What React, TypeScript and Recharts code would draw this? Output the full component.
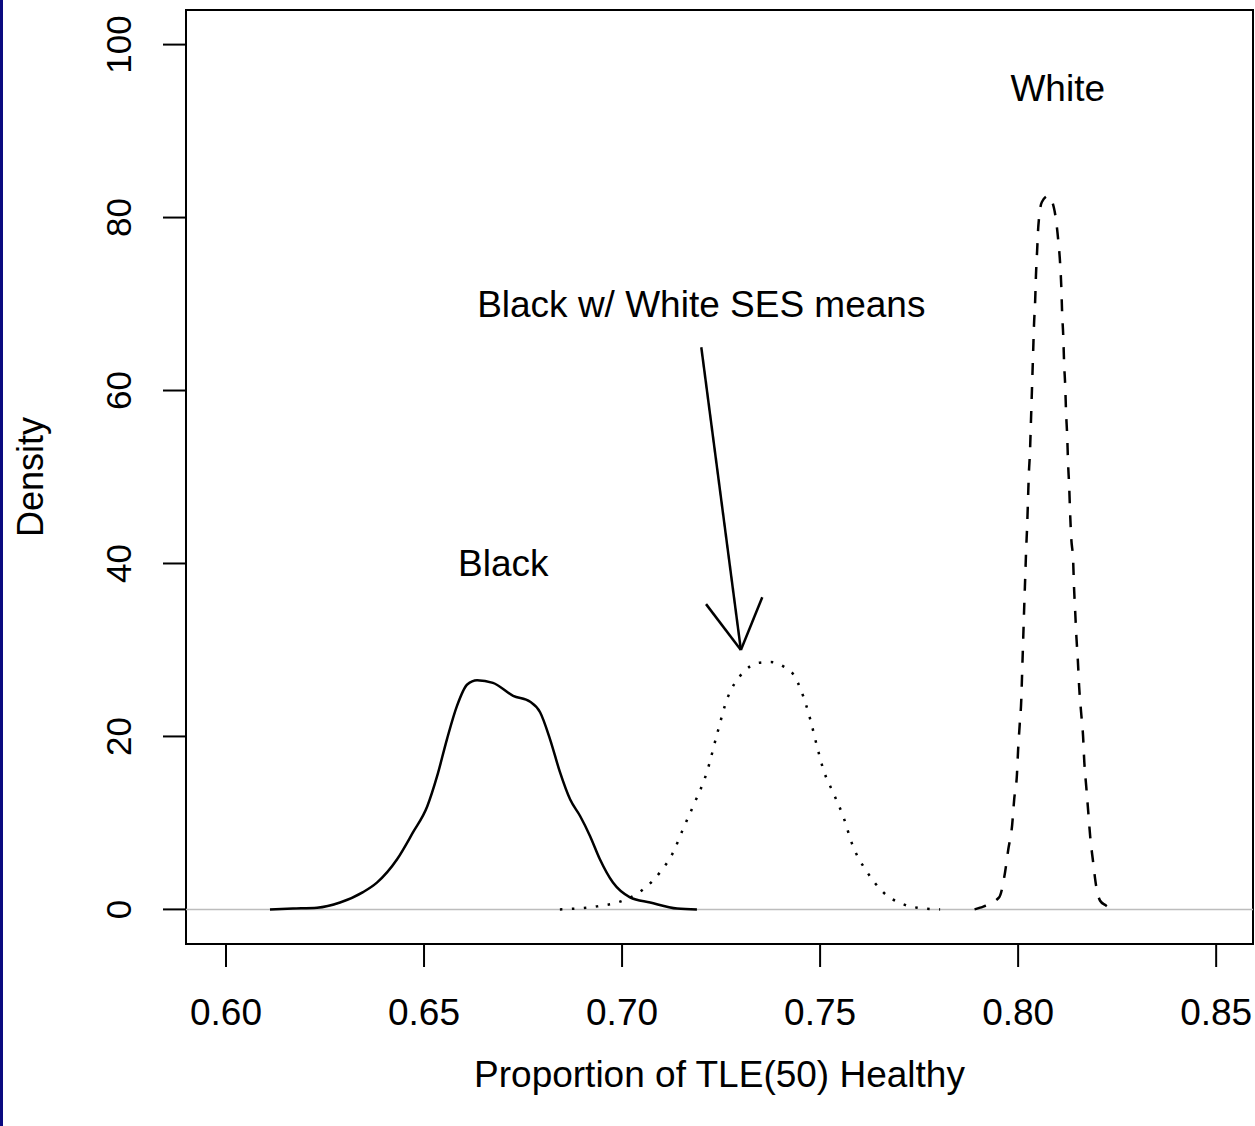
import React from "react";
import {
  LineChart,
  Line,
  XAxis,
  YAxis,
  ReferenceLine,
  ReferenceArea,
  ReferenceDot,
} from "recharts";

// density estimates
const blackX = [0.6111, 0.6169, 0.623, 0.6288, 0.6346, 0.6381, 0.6432, 0.6472, 0.6508, 0.6533, 0.6558, 0.6583, 0.6609, 0.6634, 0.6674, 0.6725, 0.6768, 0.6793, 0.6818, 0.6843, 0.6869, 0.6894, 0.6919, 0.6944, 0.6977, 0.702, 0.7071, 0.7139, 0.7189];
const blackY = [0, 0.1, 0.2, 0.8, 2.0, 3.1, 5.8, 8.9, 11.9, 15.4, 19.7, 23.5, 26.0, 26.5, 26.2, 24.7, 24.0, 22.8, 19.7, 15.9, 12.7, 10.8, 8.5, 5.8, 3.1, 1.4, 0.8, 0.1, 0];

const sesX = [0.6843, 0.6937, 0.6995, 0.7053, 0.7096, 0.7129, 0.7154, 0.7179, 0.7215, 0.724, 0.7265, 0.7298, 0.7323, 0.7343, 0.7375, 0.7407, 0.7432, 0.7457, 0.7475, 0.7492, 0.7508, 0.7533, 0.7558, 0.7583, 0.7619, 0.7659, 0.771, 0.7745, 0.7803];
const sesY = [0, 0.35, 0.9, 2.3, 4.3, 6.6, 9.3, 11.9, 16.0, 20.3, 24.3, 27.0, 28.1, 28.5, 28.6, 28.1, 27.2, 24.7, 22.0, 18.9, 16.2, 13.5, 10.8, 7.3, 4.3, 2.0, 0.6, 0.2, 0];

const whiteX = [0.789, 0.7904, 0.7952, 0.7967, 0.7975, 0.7985, 0.799, 0.7997, 0.8, 0.8004, 0.8008, 0.801, 0.8012, 0.8014, 0.8016, 0.8018, 0.802, 0.8023, 0.8025, 0.8027, 0.803, 0.8032, 0.8034, 0.8036, 0.8038, 0.804, 0.8043, 0.8045, 0.8048, 0.8051, 0.806, 0.8076, 0.809, 0.8101, 0.8106, 0.8109, 0.8111, 0.8114, 0.8116, 0.8119, 0.8121, 0.8124, 0.8126, 0.8129, 0.8131, 0.8134, 0.8139, 0.8141, 0.8144, 0.8147, 0.8151, 0.8154, 0.8159, 0.8164, 0.8167, 0.8172, 0.8177, 0.8182, 0.8189, 0.8197, 0.8207, 0.822, 0.8237];
const whiteY = [0, 0.2, 1.4, 4.3, 6.9, 9.8, 12.7, 15.6, 18.5, 21.4, 24.3, 27.2, 30.1, 33, 35.9, 38.5, 41.3, 44.6, 47.5, 50.3, 53, 55.9, 58.8, 61.7, 64.6, 67.5, 70.4, 73.3, 76.2, 79, 81.8, 82.5, 81.2, 77.5, 74.7, 72, 69.1, 66.2, 63.3, 60.4, 57.5, 54.6, 51.7, 48.8, 46.1, 43, 40.2, 37.4, 34.5, 31.6, 28.6, 25.8, 22.8, 20, 17.1, 14.2, 11.3, 8.4, 5.6, 2.7, 1.0, 0.5, 0];

const xTicks = [0.6, 0.65, 0.7, 0.75, 0.8, 0.85];
const yTicks = [0, 20, 40, 60, 80, 100];

// annotations (data coords, like text()/arrows() in R)
const labels = [
  { text: "White", x: 0.81, y: 95 },
  { text: "Black w/ White SES means", x: 0.72, y: 70 },
  { text: "Black", x: 0.67, y: 40 },
];
const arrowFrom = { x: 0.72, y: 65 };
const arrowTo = { x: 0.73, y: 30 };
const arrowHeads = [
  { x: 0.7212, y: 35.3 },
  { x: 0.7354, y: 36.1 },
];

const X_DOMAIN: [number, number] = [0.5899, 0.8593];
const Y_DOMAIN: [number, number] = [-4, 104];

const FONT = "'Liberation Sans', Arial, Helvetica, sans-serif";

const zip = (xs: number[], ys: number[]) => xs.map((x, i) => ({ x, y: ys[i] }));
const blackData = zip(blackX, blackY);
const sesData = zip(sesX, sesY);
const whiteData = zip(whiteX, whiteY);

function XTick({ x, y, payload }: any) {
  return (
    <text x={x} y={y + 58} textAnchor="middle" fontSize={37} fontFamily={FONT} fill="#000">
      {Number(payload.value).toFixed(2)}
    </text>
  );
}

function YTick({ x, y, payload }: any) {
  const bx = x - 32;
  return (
    <text
      x={bx}
      y={y}
      transform={`rotate(-90, ${bx}, ${y})`}
      textAnchor="middle"
      fontSize={35}
      fontFamily={FONT}
      fill="#000"
    >
      {payload.value}
    </text>
  );
}

export default function App() {
  return (
    <div
      style={{
        position: "absolute",
        left: 0,
        top: 0,
        width: 1255,
        height: 1126,
        background: "#fff",
        fontFamily: FONT,
      }}
    >
      <div style={{ position: "absolute", left: 0, top: 0, width: 3, height: 1126, background: "#0a0a80" }} />
      <LineChart width={1255} height={1126} margin={{ top: 10, right: 2, bottom: 0, left: 0 }}>
        <XAxis
          type="number"
          dataKey="x"
          domain={X_DOMAIN}
          allowDataOverflow
          ticks={xTicks}
          height={182}
          axisLine={false}
          tickLine={{ stroke: "#000", strokeWidth: 2 }}
          tickSize={23}
          tickMargin={0}
          tick={<XTick />}
          label={{
            content: ({ viewBox }: any) => (
              <text
                x={viewBox.x + viewBox.width / 2}
                y={1087}
                textAnchor="middle"
                fontSize={37}
                fontFamily={FONT}
                fill="#000"
              >
                Proportion of TLE(50) Healthy
              </text>
            ),
          }}
        />
        <YAxis
          type="number"
          domain={Y_DOMAIN}
          allowDataOverflow
          ticks={yTicks}
          width={186}
          axisLine={false}
          tickLine={{ stroke: "#000", strokeWidth: 2 }}
          tickSize={23}
          tickMargin={0}
          tick={<YTick />}
          label={{
            content: ({ viewBox }: any) => {
              const cy = viewBox.y + viewBox.height / 2;
              return (
                <text
                  x={43}
                  y={cy}
                  transform={`rotate(-90, 43, ${cy})`}
                  textAnchor="middle"
                  fontSize={36}
                  fontFamily={FONT}
                  fill="#000"
                >
                  Density
                </text>
              );
            },
          }}
        />
        <ReferenceLine y={0} stroke="#bdbdbd" strokeWidth={1.5} />
        <Line
          data={blackData}
          dataKey="y"
          type="monotone"
          stroke="#000"
          strokeWidth={2.5}
          dot={false}
          isAnimationActive={false}
        />
        <Line
          data={sesData}
          dataKey="y"
          type="monotone"
          stroke="#000"
          strokeWidth={2.5}
          strokeDasharray="2.5 9.5"
          dot={false}
          isAnimationActive={false}
        />
        <Line
          data={whiteData}
          dataKey="y"
          type="monotone"
          stroke="#000"
          strokeWidth={2.5}
          strokeDasharray="12 12"
          dot={false}
          isAnimationActive={false}
        />
        <ReferenceLine segment={[arrowFrom, arrowTo]} stroke="#000" strokeWidth={2.5} />
        {arrowHeads.map((h, i) => (
          <ReferenceLine key={i} segment={[h, arrowTo]} stroke="#000" strokeWidth={2.5} />
        ))}
        {labels.map((l) => (
          <ReferenceDot
            key={l.text}
            x={l.x}
            y={l.y}
            r={0}
            shape={(p: any) => (
              <text x={p.cx} y={p.cy + 13} textAnchor="middle" fontSize={37} fontFamily={FONT} fill="#000">
                {l.text}
              </text>
            )}
          />
        ))}
        <ReferenceArea
          x1={X_DOMAIN[0]}
          x2={X_DOMAIN[1]}
          y1={Y_DOMAIN[0]}
          y2={Y_DOMAIN[1]}
          fill="none"
          stroke="#000"
          strokeWidth={2}
        />
      </LineChart>
    </div>
  );
}
